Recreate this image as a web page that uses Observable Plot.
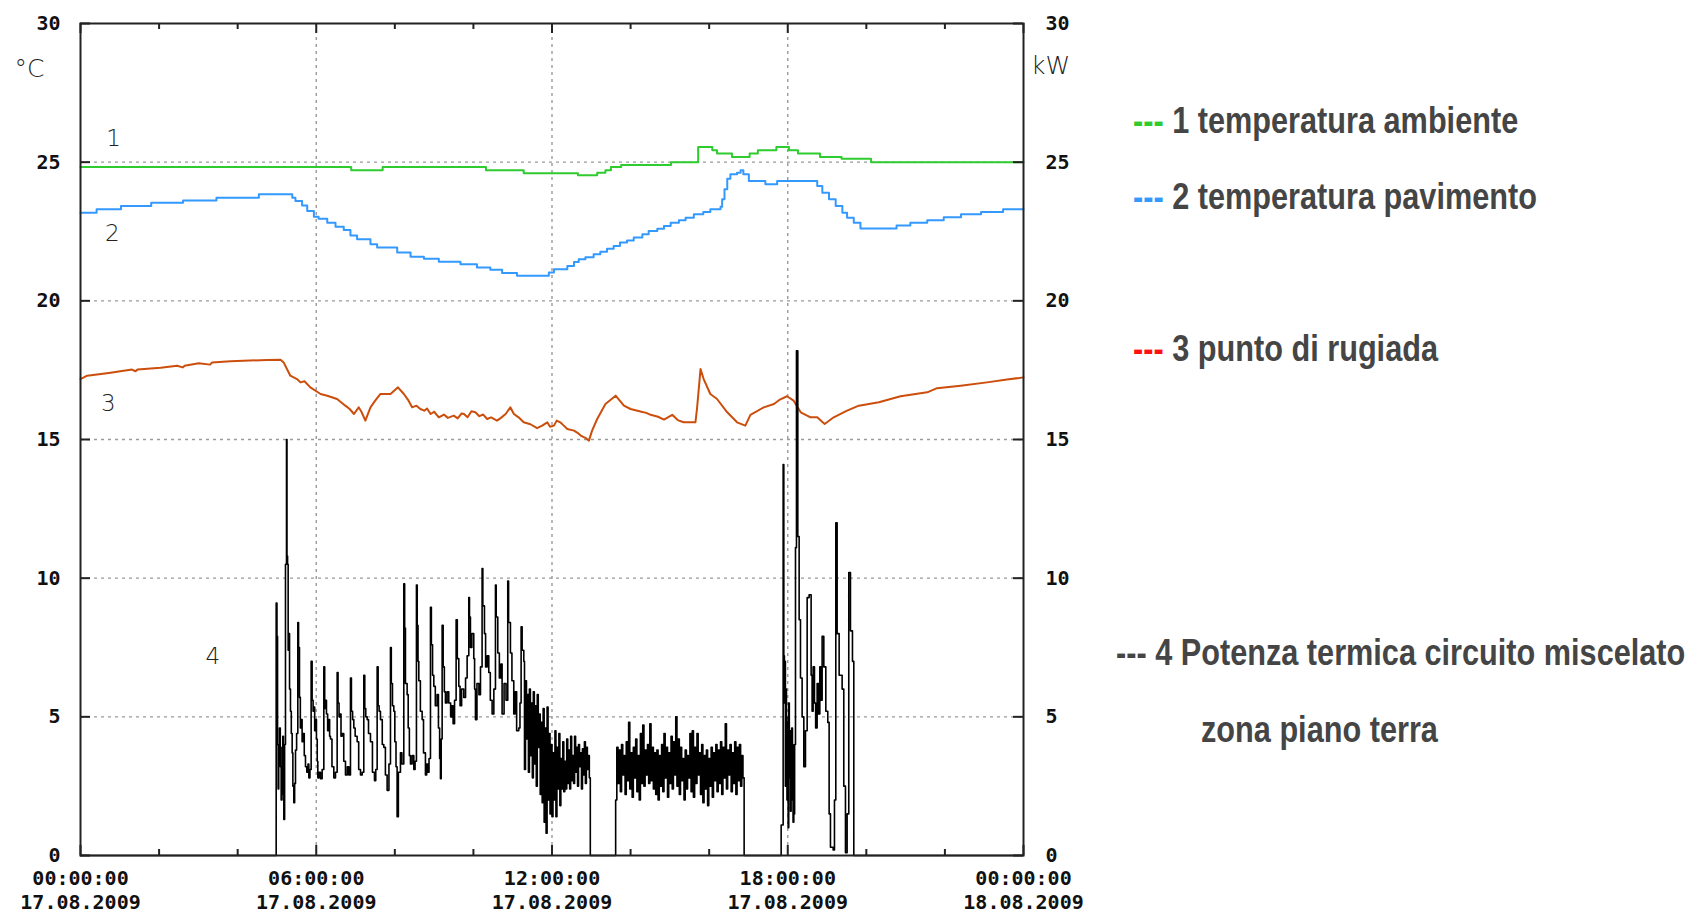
<!DOCTYPE html>
<html><head><meta charset="utf-8">
<script src="https://cdn.jsdelivr.net/npm/d3@7"></script>
<script src="https://cdn.jsdelivr.net/npm/@observablehq/plot@0.6"></script>
<style>
body{margin:0;background:#fff;}
#wrap{position:relative;width:1690px;height:914px;overflow:hidden;background:#fff;}
.leg{position:absolute;font-family:"Liberation Sans","Arial",sans-serif;font-weight:bold;font-size:36px;line-height:1;color:#454545;white-space:nowrap;transform:scaleX(0.852);transform-origin:0 50%;}
</style></head><body><div id="wrap"></div>
<script>
// ---- axis / tick data ----
const yTicks = [0, 5, 10, 15, 20, 25, 30];
const yGrid = [5, 10, 15, 20, 25];
const xGrid = [6, 12, 18];
const xMajor = [0, 6, 12, 18, 24];
const xMinor = [2, 4, 8, 10, 14, 16, 20, 22];
const xLabelTimes = ["00:00:00", "06:00:00", "12:00:00", "18:00:00", "00:00:00"];
const xLabelDates = ["17.08.2009", "17.08.2009", "17.08.2009", "17.08.2009", "18.08.2009"];

// ---- series labels ----
const labelText = ["1", "2", "3", "4"];
const labelHour = [0.84, 0.81, 0.71, 3.37];
const labelValue = [25.85, 22.43, 16.3, 7.17];

// ---- 1 temperatura ambiente [hour, °C] ----
const tempAmbiente = [[0,24.83],[6.89,24.71],[7.69,24.83],[10.32,24.71],[11.28,24.6],[12.66,24.53],[13.15,24.62],[13.36,24.71],[13.5,24.83],[13.76,24.9],[15.03,25.0],[15.72,25.55],[16.08,25.43],[16.2,25.31],[16.58,25.19],[17.03,25.31],[17.24,25.43],[17.71,25.55],[18.03,25.43],[18.26,25.31],[18.82,25.19],[19.37,25.12],[20.12,25.0],[24,25.0]];

// ---- 2 temperatura pavimento [hour, °C] ----
const tempPavimento = [[0,23.18],[0.41,23.30],[1.03,23.42],[1.80,23.54],[2.61,23.62],[3.46,23.72],[4.54,23.84],[5.39,23.72],[5.47,23.60],[5.64,23.44],[5.77,23.24],[5.94,23.03],[6.06,22.96],[6.28,22.82],[6.49,22.67],[6.70,22.55],[6.87,22.36],[7.04,22.22],[7.38,22.04],[7.55,21.92],[8.06,21.74],[8.40,21.59],[8.74,21.52],[9.12,21.41],[9.67,21.32],[10.09,21.20],[10.43,21.12],[10.73,21.00],[11.11,20.90],[11.92,21.02],[12.05,21.14],[12.39,21.26],[12.56,21.40],[12.68,21.50],[12.85,21.57],[13.06,21.68],[13.23,21.77],[13.40,21.88],[13.57,21.98],[13.73,22.10],[13.91,22.18],[14.08,22.28],[14.30,22.40],[14.46,22.52],[14.68,22.60],[14.85,22.70],[15.02,22.82],[15.23,22.91],[15.40,23.0],[15.61,23.12],[15.85,23.20],[16.03,23.30],[16.29,23.39],[16.33,23.66],[16.39,24.02],[16.46,24.40],[16.54,24.56],[16.71,24.62],[16.80,24.71],[16.87,24.56],[17.01,24.32],[17.43,24.20],[17.73,24.32],[18.75,24.14],[18.88,23.90],[19.05,23.66],[19.22,23.42],[19.39,23.18],[19.51,23.0],[19.68,22.82],[19.85,22.61],[20.77,22.72],[21.12,22.82],[21.55,22.91],[21.97,23.01],[22.41,23.12],[22.92,23.20],[23.48,23.30],[24,23.30]];

// ---- 3 punto di rugiada [hour, °C] ----
const puntoRugiada = [[0,17.18],[0.17,17.30],[0.72,17.40],[1.31,17.52],[1.40,17.46],[1.45,17.52],[2.04,17.59],[2.46,17.66],[2.60,17.60],[2.65,17.66],[3.01,17.75],[3.30,17.70],[3.35,17.78],[3.82,17.82],[4.75,17.87],[5.09,17.88],[5.17,17.78],[5.34,17.30],[5.51,17.18],[5.60,17.06],[5.70,17.10],[5.85,16.88],[6.11,16.64],[6.28,16.58],[6.53,16.46],[6.74,16.22],[6.85,16.10],[6.96,15.92],[7.08,16.16],[7.15,16.00],[7.25,15.68],[7.38,16.16],[7.50,16.40],[7.63,16.64],[7.89,16.64],[8.08,16.88],[8.23,16.64],[8.35,16.40],[8.44,16.16],[8.55,16.22],[8.65,16.10],[8.75,16.04],[8.82,16.12],[8.91,15.92],[9.00,16.00],[9.12,15.80],[9.25,15.90],[9.35,15.78],[9.50,15.86],[9.60,15.76],[9.70,15.94],[9.76,15.92],[9.85,15.80],[9.95,16.02],[10.05,15.98],[10.15,15.84],[10.25,15.90],[10.35,15.74],[10.45,15.80],[10.60,15.68],[10.70,15.78],[10.82,15.92],[10.94,16.16],[11.03,15.92],[11.15,15.80],[11.28,15.62],[11.45,15.55],[11.62,15.41],[11.75,15.50],[11.88,15.62],[11.95,15.46],[12.05,15.50],[12.12,15.68],[12.21,15.62],[12.30,15.50],[12.39,15.38],[12.56,15.32],[12.65,15.24],[12.73,15.14],[12.85,15.06],[12.94,14.96],[13.02,15.32],[13.15,15.74],[13.36,16.28],[13.62,16.58],[13.83,16.22],[14.00,16.10],[14.25,16.01],[14.40,15.96],[14.51,15.89],[14.70,15.82],[14.85,15.72],[15.06,15.89],[15.20,15.70],[15.35,15.62],[15.65,15.62],[15.69,16.10],[15.78,17.54],[15.86,17.18],[16.03,16.64],[16.20,16.46],[16.46,15.98],[16.71,15.62],[16.92,15.50],[17.05,15.89],[17.39,16.16],[17.65,16.28],[17.80,16.44],[17.98,16.56],[18.15,16.40],[18.33,15.98],[18.58,15.80],[18.75,15.80],[18.94,15.56],[19.17,15.80],[19.51,16.04],[19.81,16.22],[20.32,16.34],[20.87,16.56],[21.55,16.70],[21.80,16.85],[22.40,16.94],[23.07,17.06],[23.58,17.16],[24,17.24]];

// ---- 4 potenza termica [hour, kW] ----
const powerMorning = [[0,0],
[4.980,9.1],[5.000,7.9],[5.015,4.0],[5.030,2.4],[5.045,3.6],[5.064,4.6],[5.085,3.2],[5.107,2.0],[5.128,3.9],[5.149,4.3],[5.165,2.2],[5.175,1.3],[5.195,4.0],
[5.217,10.5],[5.243,15.0],[5.255,10.8],[5.270,10.5],[5.285,7.4],[5.302,8.0],[5.320,6.0],[5.344,5.2],[5.365,4.4],[5.387,3.7],[5.405,2.5],[5.429,1.9],[5.450,2.6],[5.472,3.8],[5.500,4.4],
[5.531,8.4],[5.550,7.5],[5.573,5.7],[5.595,4.6],[5.616,4.9],[5.640,4.1],[5.667,4.4],[5.695,3.6],[5.726,3.2],[5.760,3.0],[5.790,3.3],[5.811,2.8],[5.840,3.1],
[5.870,7.0],[5.895,5.6],[5.920,5.2],[5.938,5.35],[5.960,4.5],[5.980,4.9],[6.005,4.2],[6.025,3.4],[6.040,2.8],[6.070,3.0],[6.108,2.77],[6.150,3.1],
[6.193,6.8],[6.215,5.3],[6.240,5.6],[6.260,5.1],[6.290,4.5],[6.320,4.9],[6.340,4.3],[6.362,4.2],[6.400,3.2],[6.447,2.8],[6.490,3.0],
[6.532,6.6],[6.555,5.5],[6.580,5.0],[6.600,5.1],[6.630,4.3],[6.659,4.4],[6.700,3.4],[6.744,2.9],[6.790,3.2],[6.830,2.9],
[6.871,6.4],[6.895,5.2],[6.925,4.9],[6.956,4.6],[6.990,4.3],[7.041,4.1],[7.080,3.1],[7.126,2.9],[7.170,3.0],
[7.210,6.5],[7.235,5.3],[7.260,5.0],[7.295,4.9],[7.330,4.4],[7.380,4.1],[7.430,3.0],[7.482,2.7],[7.515,3.1],
[7.550,6.8],[7.575,5.4],[7.600,5.2],[7.634,4.9],[7.680,4.0],[7.719,3.9],[7.760,2.9],[7.804,2.35],[7.850,3.3],
[7.889,7.5],[7.910,6.2],[7.940,5.4],[7.974,5.2],[8.000,4.1],[8.030,3.2],[8.058,1.4],[8.090,3.0],[8.143,3.7],[8.180,3.3],
[8.228,9.8],[8.250,8.2],[8.270,6.2],[8.313,5.8],[8.340,4.6],[8.370,3.6],[8.398,3.3],[8.440,3.6],[8.483,3.1],[8.515,3.4],
[8.550,9.75],[8.570,8.3],[8.590,7.0],[8.610,6.3],[8.650,5.2],[8.695,4.9],[8.730,3.7],[8.779,2.9],[8.810,3.3],[8.839,3.0],[8.870,3.5],
[8.907,8.95],[8.930,7.6],[8.960,6.5],[8.992,6.1],[9.030,5.4],[9.076,5.8],[9.110,4.6],[9.140,3.5],[9.161,2.77],[9.180,4.2],
[9.204,8.3],[9.230,6.8],[9.260,5.9],[9.288,5.5],[9.330,5.9],[9.373,5.5],[9.420,5.0],[9.450,5.4],[9.483,4.75],[9.520,5.6],
[9.560,8.5],[9.590,7.1],[9.628,6.1],[9.660,5.4],[9.700,6.0],[9.755,5.7],[9.800,6.4],[9.840,7.2],
[9.882,9.3],[9.900,8.6],[9.924,7.5],[9.960,8.0],[10.009,7.1],[10.030,6.0],[10.052,4.9],[10.090,6.2],[10.140,5.8],[10.180,6.8],
[10.221,10.35],[10.240,9.0],[10.281,8.0],[10.310,6.8],[10.350,7.2],[10.391,6.6],[10.430,5.6],[10.476,5.1],[10.520,6.0],
[10.561,9.75],[10.580,8.6],[10.620,7.3],[10.660,6.4],[10.700,6.9],[10.730,5.1],[10.780,6.2],[10.830,5.6],
[10.874,9.9],[10.895,8.4],[10.942,7.3],[10.980,6.3],[11.027,5.1],[11.060,5.9],[11.100,4.5],[11.154,4.6],[11.185,5.5],
[11.214,8.25],[11.240,7.4],[11.282,7.0]];
const noonStart = 11.30, noonStep = 0.025;
const powerNoon = [3.1,6.3,4.2,5.8,3.0,6.0,3.6,5.5,2.8,5.9, 3.3,5.4,2.5,5.8,3.9,5.1,2.2,4.8,1.9,5.3, 1.2,4.6,0.8,5.35,2.0,4.4,1.5,4.0,1.4,3.7, 2.0,4.5,1.4,3.9,2.4,4.4,1.8,3.5,2.4,4.1, 2.3,3.4,2.4,4.2,2.6,3.8,2.4,4.3,2.7,3.6, 2.6,4.3,3.0,3.9,2.5,4.0,3.2,3.7,2.4,3.85, 2.9,4.1,2.6,3.9,3.1,3.6,2.8];
const aftStart = 13.62, aftStep = 0.03;
const powerAfternoon = [2.0,3.9,2.6,3.8,2.3,4.0,2.9,3.6,2.2,4.1, 2.7,4.8,2.4,3.7,2.1,3.9,2.8,4.2,2.3,3.6, 2.0,4.4,2.6,4.7,2.5,3.8,2.9,4.0,2.6,4.75, 2.7,3.9,2.4,3.7,2.2,3.8,2.0,3.6,2.5,4.0, 2.3,4.4,2.8,3.9,2.1,3.7,2.6,4.3,2.4,4.1, 2.9,5.0,2.5,4.2,2.2,3.9,2.7,3.5,2.0,3.8, 2.4,3.6,2.8,4.4,2.3,4.5,2.1,3.9,2.6,4.4, 2.9,3.7,2.2,4.0,1.9,3.6,2.4,3.8,1.8,3.5, 2.5,3.9,2.1,3.7,2.7,4.0,2.3,3.8,2.6,4.1, 2.2,3.9,2.8,4.75,2.4,3.8,2.9,4.0,2.3,3.7, 2.6,4.1,2.2,3.9,2.7,4.0,2.5,3.6,2.8];
const powerEvening = [[17.832,1.1],[17.883,14.1],[17.900,7.2],[17.915,5.5],[17.925,7.0],[17.940,2.5],[17.955,6.0],[17.967,5.0],[17.980,2.0],[17.995,4.8],[18.010,1.0],[18.025,5.5],[18.040,2.8],[18.052,4.5],[18.070,1.6],[18.086,2.0],[18.100,4.6],[18.120,4.0],[18.135,1.2],[18.154,1.5],[18.175,4.0],[18.197,11.1],[18.222,18.2],[18.256,11.5],[18.290,8.5],[18.324,6.4],[18.366,5.0],[18.409,3.2],[18.451,4.5],[18.494,9.3],[18.544,9.4],[18.595,6.5],[18.620,5.2],[18.646,6.8],[18.680,5.5],[18.710,4.6],[18.748,6.2],[18.780,5.1],[18.816,6.8],[18.845,5.6],[18.875,7.9],[18.918,6.8],[18.969,5.2],[19.019,4.8],[19.053,1.5],[19.087,0.3],[19.155,0.2],[19.189,2.0],[19.223,12.0],[19.257,8.0],[19.308,6.5],[19.384,6.0],[19.426,2.5],[19.469,0.1],[19.511,1.5],[19.553,10.2],[19.596,8.1],[19.647,7.0],[19.681,0],[24,0]];

// ---- legend ----
const legendItems = [
  {swatch: "#2ecc2e", text: "1 temperatura ambiente"},
  {swatch: "#3399ff", text: "2 temperatura pavimento"},
  {swatch: "#ff1111", text: "3 punto di rugiada"}
];

// ---- assemble power series ----
const power = [];
powerMorning.forEach(p => power.push(p));
powerNoon.forEach((v, i) => power.push([noonStart + i * noonStep, v]));
power.push([noonStart + powerNoon.length * noonStep, 0]);
powerAfternoon.forEach((v, i) => power.push([aftStart + i * aftStep, v]));
power.push([aftStart + powerAfternoon.length * aftStep, 0]);
powerEvening.forEach(p => power.push(p));

const W = 1690, H = 914;
const mL = 80, mR = 667, mT = 23, mB = 59;
const pw = W - mL - mR, ph = H - mT - mB;
const mono = "'DejaVu Sans Mono', monospace";
const thin = "'DejaVu Sans', 'Liberation Sans', sans-serif";
const gridStyle = {stroke: "#9a9a9a", strokeOpacity: 1, strokeWidth: 1.4, strokeDasharray: "3,4"};

const chart = Plot.plot({
  width: W, height: H,
  marginLeft: mL, marginRight: mR, marginTop: mT, marginBottom: mB,
  x: {domain: [0, 24], axis: null},
  y: {domain: [0, 30], axis: null},
  style: {background: "white", overflow: "visible"},
  marks: [
    Plot.gridY(yGrid, gridStyle),
    Plot.gridX(xGrid, gridStyle),
    Plot.line(tempAmbiente, {x: d => d[0], y: d => d[1], stroke: "#2ecc2e", strokeWidth: 2, curve: "step-after"}),
    Plot.line(tempPavimento, {x: d => d[0], y: d => d[1], stroke: "#3399ff", strokeWidth: 2, curve: "step-after"}),
    Plot.line(puntoRugiada, {x: d => d[0], y: d => d[1], stroke: "#cc4e0c", strokeWidth: 2, curve: "linear"}),
    Plot.line(power, {x: d => d[0], y: d => d[1], stroke: "#000", strokeWidth: 1.6, curve: "step-after"}),
    Plot.frame({stroke: "#222", strokeWidth: 2}),
    Plot.tickY(yTicks, {y: d => d, stroke: "#222", strokeWidth: 2, insetRight: pw - 10}),
    Plot.tickY(yTicks, {y: d => d, stroke: "#222", strokeWidth: 2, insetLeft: pw - 10}),
    Plot.tickX(xMajor, {x: d => d, stroke: "#222", strokeWidth: 2, insetTop: ph - 10}),
    Plot.tickX(xMajor, {x: d => d, stroke: "#222", strokeWidth: 2, insetBottom: ph - 10}),
    Plot.tickX(xMinor, {x: d => d, stroke: "#222", strokeWidth: 2, insetTop: ph - 6}),
    Plot.tickX(xMinor, {x: d => d, stroke: "#222", strokeWidth: 2, insetBottom: ph - 6}),
    Plot.axisY(yTicks, {anchor: "left", tickSize: 0, tickPadding: 20, fontSize: 20, fontWeight: "bold", fontFamily: mono, fill: "#111", label: null}),
    Plot.axisY(yTicks, {anchor: "right", tickSize: 0, tickPadding: 22, fontSize: 20, fontWeight: "bold", fontFamily: mono, fill: "#111", label: null}),
    Plot.axisX(xMajor, {anchor: "bottom", tickSize: 0, tickPadding: 12, fontSize: 20, fontWeight: "bold", fontFamily: mono, fill: "#111", lineHeight: 1.2, label: null,
      tickFormat: d => xLabelTimes[d / 6] + "\n" + xLabelDates[d / 6]}),
    Plot.text(labelText, {x: (d, i) => labelHour[i], y: (d, i) => labelValue[i], text: d => d, fontSize: 23, fontFamily: thin, fontWeight: 300, fill: "#222"}),
    Plot.text(["°C"], {frameAnchor: "top-left", textAnchor: "middle", lineAnchor: "middle", dx: -51, dy: 45, fontSize: 25, fontFamily: thin, fontWeight: 300, fill: "#222"}),
    Plot.text(["kW"], {frameAnchor: "top-right", textAnchor: "middle", lineAnchor: "middle", dx: 27, dy: 42, fontSize: 25, fontFamily: thin, fontWeight: 300, fill: "#222"})
  ]
});

const wrap = document.getElementById("wrap");
wrap.appendChild(chart);

const legendTops = [103, 179, 331];
legendItems.forEach((it, i) => {
  const d = document.createElement("div");
  d.className = "leg";
  d.style.left = "1133px";
  d.style.top = legendTops[i] + "px";
  const s = document.createElement("span");
  s.style.color = it.swatch;
  s.textContent = "---";
  d.appendChild(s);
  d.appendChild(document.createTextNode(" " + it.text));
  wrap.appendChild(d);
});
const l4 = document.createElement("div");
l4.className = "leg";
l4.style.left = "1116px"; l4.style.top = "635px";
l4.textContent = "--- 4 Potenza termica circuito miscelato";
wrap.appendChild(l4);
const l5 = document.createElement("div");
l5.className = "leg";
l5.style.left = "1201px"; l5.style.top = "712px";
l5.textContent = "zona piano terra";
wrap.appendChild(l5);
</script></body></html>
